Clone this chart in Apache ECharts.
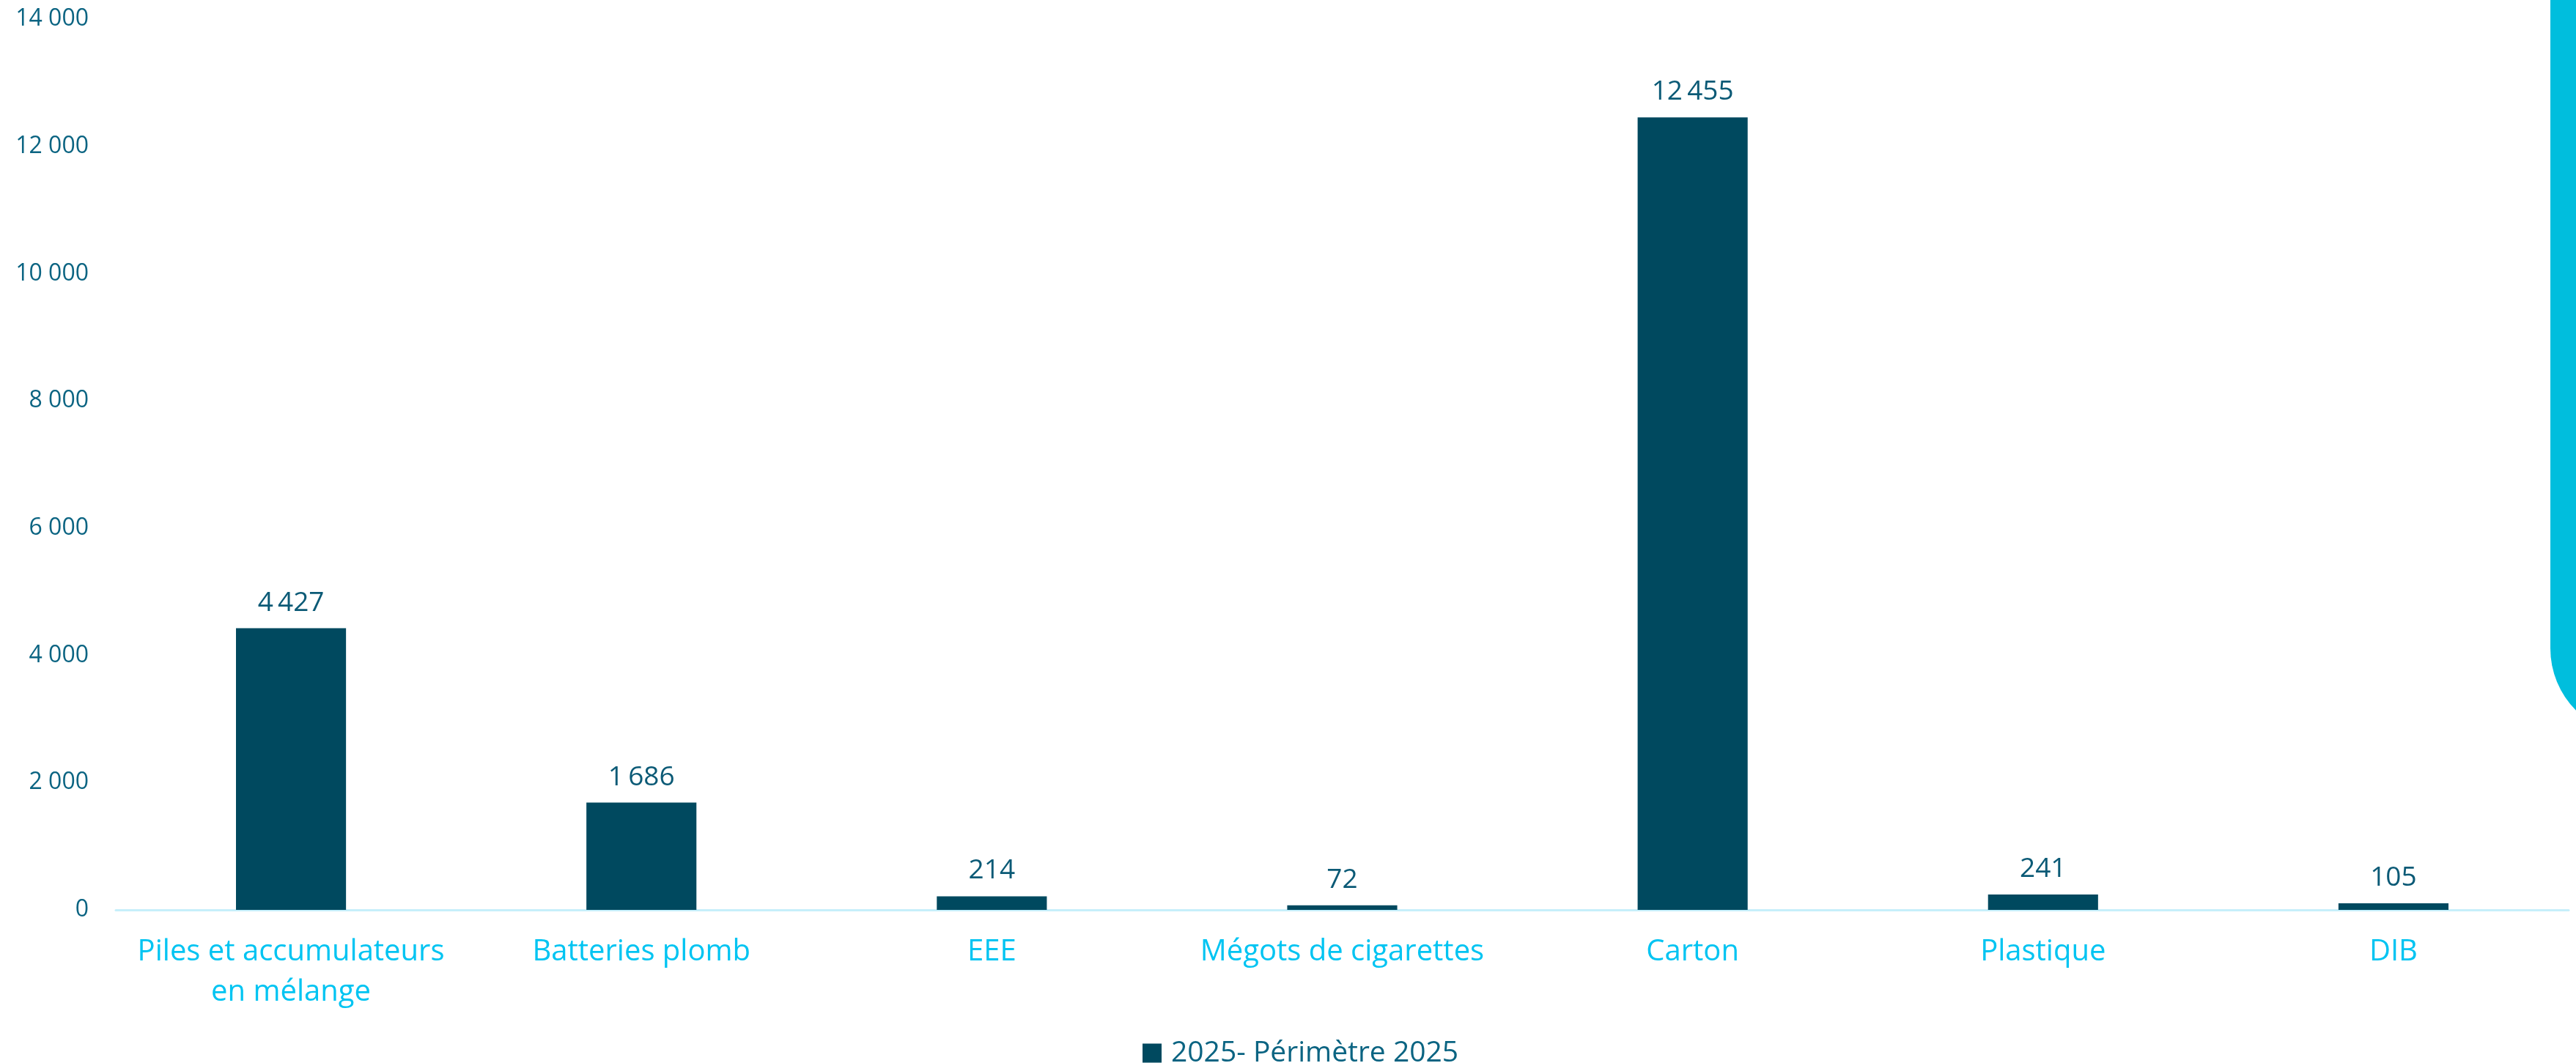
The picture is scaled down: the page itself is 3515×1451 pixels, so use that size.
<!DOCTYPE html>
<html>
<head>
<meta charset="utf-8">
<script src="https://cdn.jsdelivr.net/npm/echarts@6/dist/echarts.min.js"></script>
<style>
html,body{margin:0;padding:0;background:#fff;}
#chart{width:3515px;height:1451px;}
</style>
</head>
<body>
<div id="chart"></div>
<script>
const categories = ["Piles et accumulateurs\nen mélange", "Batteries plomb", "EEE", "Mégots de cigarettes", "Carton", "Plastique", "DIB"];
const values2025 = [4427, 1686, 214, 72, 12455, 241, 105];
const seriesName = "2025- Périmètre 2025";
const yTicks = { min: 0, max: 14000, interval: 2000 };

const FONT = "'Open Sans', 'Noto Sans', sans-serif";
function fmt(v, sep) { return String(v).replace(/\B(?=(\d{3})+(?!\d))/g, sep); }

const chart = echarts.init(document.getElementById('chart'));
chart.setOption({
  backgroundColor: '#ffffff',
  animation: false,
  grid: { left: 158, right: 10, top: 26, bottom: 209, containLabel: false, outerBoundsMode: 'none' },
  legend: {
    data: [seriesName],
    bottom: -6,
    left: 1559,
    padding: 0,
    icon: 'rect',
    itemWidth: 26,
    itemHeight: 26,
    itemGap: 10,
    textStyle: { color: '#0B6482', fontSize: 39, fontFamily: FONT, padding: [0, 0, 0, 8] }
  },
  xAxis: {
    type: 'category',
    data: categories,
    axisLine: { lineStyle: { color: '#C6EFFA', width: 3 } },
    axisTick: { show: false },
    axisLabel: { color: '#00C4F2', fontSize: 40, fontFamily: FONT, margin: 30, lineHeight: 55, interval: 0 }
  },
  yAxis: {
    type: 'value',
    min: yTicks.min, max: yTicks.max, interval: yTicks.interval,
    splitLine: { show: false },
    axisLine: { show: false },
    axisTick: { show: false },
    axisLabel: { color: '#0B6482', fontSize: 32, fontFamily: FONT, margin: 37, formatter: v => fmt(v, ' ') }
  },
  series: [{
    name: seriesName,
    type: 'bar',
    data: values2025,
    barWidth: '31.4%',
    itemStyle: { color: '#00495F' },
    label: {
      show: true, position: 'top', distance: 16,
      color: '#0B5A76', fontSize: 37, fontFamily: FONT,
      formatter: p => fmt(p.value, '\u2009')
    }
  }],
  graphic: [{
    type: 'rect',
    shape: { x: 3480, y: -200, width: 400, height: 1205, r: 120 },
    style: { fill: '#00BEDD' },
    silent: true
  }]
});
</script>
</body>
</html>
